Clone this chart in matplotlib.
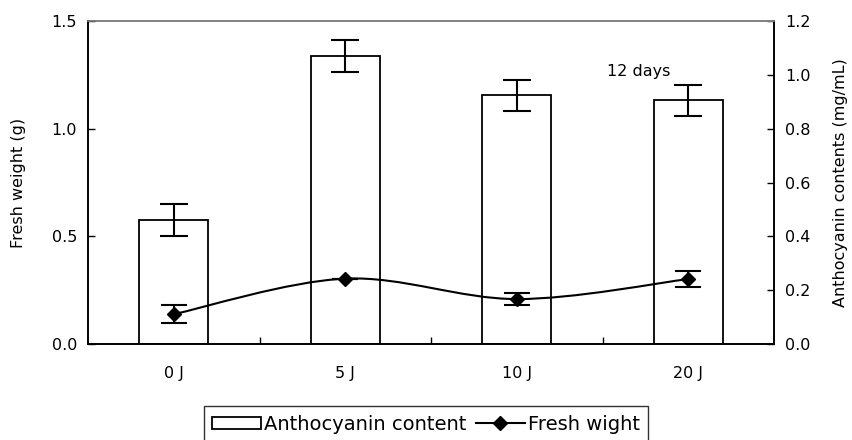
import matplotlib.pyplot as plt
import numpy as np
from matplotlib.path import Path
from matplotlib.patches import PathPatch, Patch
from matplotlib.lines import Line2D

plt.rcParams["font.family"] = ["DejaVu Sans"]

# data
groups = ["0 J", "5 J", "10 J", "20 J"]
anthocyanin = [0.461, 1.07, 0.925, 0.906]      # mg/mL, right axis
anthocyanin_err = [0.06, 0.06, 0.058, 0.058]
fresh_weight = [0.139, 0.304, 0.209, 0.302]    # g, left axis
fresh_weight_err = [0.042, 0.0, 0.028, 0.037]


def smooth_path(xs, ys):
    """Catmull-Rom style cubic curve through the points (like Excel smoothed line)"""
    pts = np.column_stack([xs, ys]).astype(float)
    verts = [pts[0]]
    codes = [Path.MOVETO]
    n = len(pts)
    for i in range(n - 1):
        p0 = pts[i - 1] if i > 0 else pts[i]
        p1 = pts[i]
        p2 = pts[i + 1]
        p3 = pts[i + 2] if i + 2 < n else pts[i + 1]
        c1 = p1 + (p2 - p0) / 6.0
        c2 = p2 - (p3 - p1) / 6.0
        verts += [c1, c2, p2]
        codes += [Path.CURVE4] * 3
    return Path(verts, codes)


fig = plt.figure(figsize=(8.52, 4.40), dpi=100)
ax1 = fig.add_axes([0.1033, 0.218, 0.8052, 0.734])
ax2 = ax1.twinx()

x = np.arange(len(groups))

# bars (anthocyanin) on right axis
ax2.bar(x, anthocyanin, width=0.4, color="white", edgecolor="black", linewidth=1.3, zorder=2)
ax2.errorbar(x, anthocyanin, yerr=anthocyanin_err, fmt="none", ecolor="black",
             elinewidth=1.5, capsize=10, capthick=1.5, zorder=3)

# line (fresh weight) on left axis, drawn above bars
ax1.set_zorder(ax2.get_zorder() + 1)
ax1.patch.set_visible(False)
ax1.add_patch(PathPatch(smooth_path(x, fresh_weight), facecolor="none",
                        edgecolor="black", linewidth=1.5, zorder=3))
ax1.errorbar(x, fresh_weight, yerr=fresh_weight_err, fmt="none", ecolor="black",
             elinewidth=1.5, capsize=9.5, capthick=1.5, zorder=4)
ax1.plot(x, fresh_weight, linestyle="none", marker="D", markersize=7,
         color="black", zorder=5)

ax1.set_xlim(-0.5, len(groups) - 0.5)
ax1.set_ylim(0, 1.5)
ax2.set_ylim(0, 1.2)
ax1.set_yticks([0.0, 0.5, 1.0, 1.5])
ax1.set_yticklabels(["0.0", "0.5", "1.0", "1.5"])
ax2.set_yticks(np.arange(0, 1.21, 0.2))
ax2.set_yticklabels([f"{v:.1f}" for v in np.arange(0, 1.21, 0.2)])

ax1.set_xticks(x)
ax1.set_xticklabels(groups)
ax1.set_xticks(x[:-1] + 0.5, minor=True)
ax1.tick_params(axis="x", which="major", length=0, pad=16, labelsize=11.5)
ax1.tick_params(axis="x", which="minor", direction="in", length=5, width=1)
ax1.tick_params(axis="y", direction="in", length=5, width=1, labelsize=11.5, pad=8)
ax2.tick_params(axis="y", direction="in", length=5, width=1, labelsize=11.5, pad=8)

ax1.set_ylabel("Fresh weight (g)", fontsize=11.5, labelpad=18)
ax2.set_ylabel("Anthocyanin contents (mg/mL)", fontsize=11.5, labelpad=16)

for ax in (ax1, ax2):
    for side in ("left", "right", "bottom"):
        ax.spines[side].set_color("black")
        ax.spines[side].set_linewidth(1.2)
    ax.spines["top"].set_color("#808080")
    ax.spines["top"].set_linewidth(1.2)

ax1.text(2.71, 1.268, "12 days", fontsize=11.5, ha="center", va="center")

handles = [
    Patch(facecolor="white", edgecolor="black", linewidth=1.3),
    Line2D([0], [0], color="black", linewidth=1.5, marker="D", markersize=7),
]
leg = fig.legend(handles, ["Anthocyanin content", "Fresh wight"], loc="upper center",
                 bbox_to_anchor=(0.5, 1 - 406 / 440), ncol=2, frameon=True, fancybox=False,
                 fontsize=14, handlelength=2.5, handletextpad=0.15, columnspacing=0.5,
                 borderpad=0.45, borderaxespad=0, handleheight=0.55)
leg.get_frame().set_edgecolor("black")
leg.get_frame().set_linewidth(1.0)

fig.savefig("out.png", dpi=100)
